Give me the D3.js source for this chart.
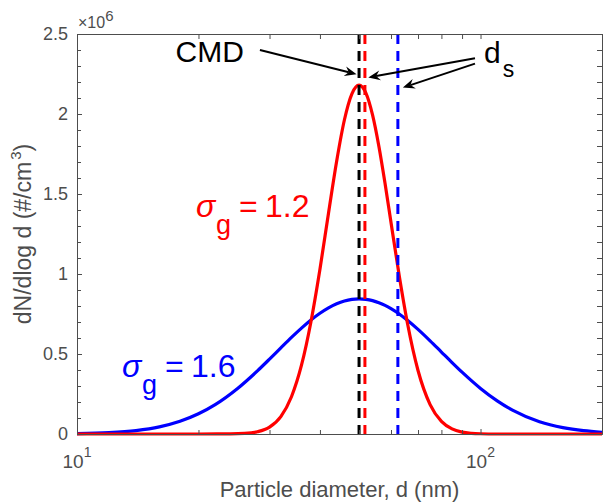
<!DOCTYPE html>
<html><head><meta charset="utf-8">
<script src="https://cdn.jsdelivr.net/npm/d3@7"></script>
<style>
html,body{margin:0;padding:0;background:#fff;}
text{font-family:"Liberation Sans",Arial,Helvetica,sans-serif;}
</style>
</head><body>
<svg id="c" width="603" height="504"></svg>
<script>
// ---- data (values in units of 10^6 #/cm^3) ----
const dRed = [10,15,20,24,26,28,30,32,34,36,38,40,42,44,46,48,50,52,54,56,58,60,63,66,70,75,80,85,90,95,100,110,120,150,200];
const nRed = [0,0,0,0.0007,0.0035,0.0138,0.043,0.109,0.233,0.430,0.702,1.030,1.380,1.705,1.964,2.126,2.180,2.130,1.994,1.797,1.565,1.322,0.977,0.684,0.397,0.184,0.0786,0.0316,0.0120,0.0044,0.0016,0.0001,0,0,0];
const dBlue = [10,12,14,16,18,20,22,25,28,30,32,34,36,38,40,42,44,46,48,50,52,54,56,58,60,63,66,70,75,80,85,90,100,110,120,140,160,180,200];
const nBlue = [0.0024,0.0085,0.0216,0.0447,0.0795,0.1263,0.1837,0.2848,0.3947,0.4680,0.5383,0.6034,0.6618,0.7127,0.7548,0.7887,0.8142,0.8317,0.8417,0.845,0.8419,0.8337,0.8206,0.8038,0.7837,0.7487,0.7096,0.6539,0.5824,0.5124,0.4467,0.3865,0.2848,0.2069,0.1490,0.0766,0.0396,0.0206,0.0109];
const cmd = 50;          // count median diameter (nm)
const dsRed = 51.7;      // d_s for sigma_g = 1.2
const dsBlue = 62.4;     // d_s for sigma_g = 1.6
const yMajor = [0,0.5,1,1.5,2,2.5];
const yMajorLabels = ["0","0.5","1","1.5","2","2.5"];
const yMinor = [0.1,0.2,0.3,0.4,0.6,0.7,0.8,0.9,1.1,1.2,1.3,1.4,1.6,1.7,1.8,1.9,2.1,2.2,2.3,2.4];
const xMajor = [10,100];
const xMajorExp = ["1","2"];
const xMinor = [20,30,40,50,60,70,80,90,200];
// annotation arrows [tailD, tailN, tipD, tipN]
const arrows = [[28.4,2.40,49.3,2.249],[96.9,2.348,52.7,2.228],[96.9,2.315,64.2,2.165]];

// ---- layout ----
const svg = d3.select("#c");
const L=77, R=602, T=34, B=434;
const x = d3.scaleLog().domain([10,200]).range([L,R]);
const y = d3.scaleLinear().domain([0,2.5]).range([B,T]);
const axisCol = "#4d4d4d";
const tl = 5;

function styleAxis(g){
  g.select(".domain").attr("stroke",axisCol).attr("stroke-width",1);
  g.selectAll(".tick line").attr("stroke",axisCol).attr("stroke-width",1);
  g.selectAll(".tick text").attr("fill",axisCol).attr("font-family","Liberation Sans, Arial, sans-serif");
}

// curves
const line = d3.line().x(d=>x(d[0])).y(d=>y(d[1])).curve(d3.curveMonotoneX);
const plot = svg.append("g");
plot.append("path").datum(dBlue.map((d,i)=>[d,nBlue[i]]))
  .attr("d",line).attr("fill","none").attr("stroke","#0000ff").attr("stroke-width",3.2);
plot.append("path").datum(dRed.map((d,i)=>[d,nRed[i]]))
  .attr("d",line).attr("fill","none").attr("stroke","#ff0000").attr("stroke-width",3.2);

// dashed vertical lines
[[cmd,"#000"],[dsRed,"#ff0000"],[dsBlue,"#0000ff"]].forEach(([d,c])=>{
  plot.append("line").attr("x1",x(d)).attr("x2",x(d)).attr("y1",y(2.5)).attr("y2",y(0))
    .attr("stroke",c).attr("stroke-width",3).attr("stroke-dasharray","10,7");
});

// axes
const gx = svg.append("g").attr("transform",`translate(0,${B})`)
  .call(d3.axisBottom(x).tickValues(xMajor).tickSize(-tl).tickSizeOuter(0).tickFormat(""));
styleAxis(gx);
const gxm = svg.append("g").attr("transform",`translate(0,${B})`)
  .call(d3.axisBottom(x).tickValues(xMinor).tickSize(-tl+1).tickSizeOuter(0).tickFormat(""));
styleAxis(gxm);
const gxt = svg.append("g").attr("transform",`translate(0,${T})`)
  .call(d3.axisTop(x).tickValues(xMajor.concat(xMinor)).tickSize(-tl).tickSizeOuter(0).tickFormat(""));
styleAxis(gxt);
const gy = svg.append("g").attr("transform",`translate(${L},0)`)
  .call(d3.axisLeft(y).tickValues(yMajor).tickSize(-tl).tickSizeOuter(0).tickPadding(9)
    .tickFormat((d,i)=>yMajorLabels[i]));
styleAxis(gy);
gy.selectAll(".tick text").attr("font-size",18);
const gym = svg.append("g").attr("transform",`translate(${L},0)`)
  .call(d3.axisLeft(y).tickValues(yMinor).tickSize(-tl+1).tickSizeOuter(0).tickFormat(""));
styleAxis(gym);
const gyr = svg.append("g").attr("transform",`translate(${R},0)`)
  .call(d3.axisRight(y).tickValues(yMajor.concat(yMinor)).tickSize(-tl).tickSizeOuter(0).tickFormat(""));
styleAxis(gyr);

// x tick labels 10^n
xMajor.forEach((d,i)=>{
  const t = svg.append("text").attr("x",x(d)).attr("y",468).attr("text-anchor","middle")
    .attr("fill",axisCol).attr("font-size",19);
  t.append("tspan").text("10");
  t.append("tspan").attr("font-size",14).attr("dy",-11).text(xMajorExp[i]);
});
// x10^6
const ex = svg.append("text").attr("x",L+1).attr("y",28).attr("fill",axisCol).attr("font-size",16);
ex.append("tspan").text("\u00d710");
ex.append("tspan").attr("font-size",15).attr("dy",-7).text("6");

// axis labels
svg.append("text").attr("x",(L+R)/2).attr("y",497).attr("text-anchor","middle")
  .attr("fill",axisCol).attr("font-size",22).text("Particle diameter, d (nm)");
const yl = svg.append("text").attr("transform",`translate(31,${(T+B)/2}) rotate(-90)`)
  .attr("text-anchor","middle").attr("fill",axisCol).attr("font-size",23);
yl.append("tspan").text("dN/dlog d (#/cm");
yl.append("tspan").attr("font-size",15).attr("dy",-10).attr("dx",2).text("3");
yl.append("tspan").attr("dy",10).text(")");

// annotations
svg.append("text").attr("x",175.5).attr("y",62).attr("font-size",30).attr("fill","#000").text("CMD");
const ds = svg.append("text").attr("x",484).attr("y",63).attr("font-size",30).attr("fill","#000");
ds.append("tspan").text("d");
ds.append("tspan").attr("font-size",23).attr("dy",14).attr("dx",2).text("s");

function sigmaLabel(px,py,val,col){
  const g = svg.append("g").attr("fill",col);
  g.append("text").attr("x",px).attr("y",py).attr("font-size",32).attr("font-style","italic")
    .attr("font-family","Liberation Serif, Times New Roman, serif").text("\u03c3");
  g.append("text").attr("x",px+20).attr("y",py+17).attr("font-size",27).text("g");
  g.append("text").attr("x",px+43).attr("y",py).attr("font-size",32).text("=");
  g.append("text").attr("x",px+69).attr("y",py).attr("font-size",32).text(val);
}
sigmaLabel(196,217,"1.2","#ff0000");
sigmaLabel(122,377,"1.6","#0000ff");

// arrows
arrows.forEach(a=>{
  const x1=x(a[0]), y1=y(a[1]), x2=x(a[2]), y2=y(a[3]);
  const ang=Math.atan2(y2-y1,x2-x1);
  const hl=12, hw=5, notch=8;
  const bx = x2 - notch*Math.cos(ang), by = y2 - notch*Math.sin(ang);
  svg.append("line").attr("x1",x1).attr("y1",y1).attr("x2",bx).attr("y2",by)
    .attr("stroke","#000").attr("stroke-width",2);
  const p = [
    [x2,y2],
    [x2 - hl*Math.cos(ang) + hw*Math.sin(ang), y2 - hl*Math.sin(ang) - hw*Math.cos(ang)],
    [bx,by],
    [x2 - hl*Math.cos(ang) - hw*Math.sin(ang), y2 - hl*Math.sin(ang) + hw*Math.cos(ang)]
  ];
  svg.append("path").attr("d","M"+p.map(q=>q.join(",")).join("L")+"Z").attr("fill","#000");
});
</script>
</body></html>
